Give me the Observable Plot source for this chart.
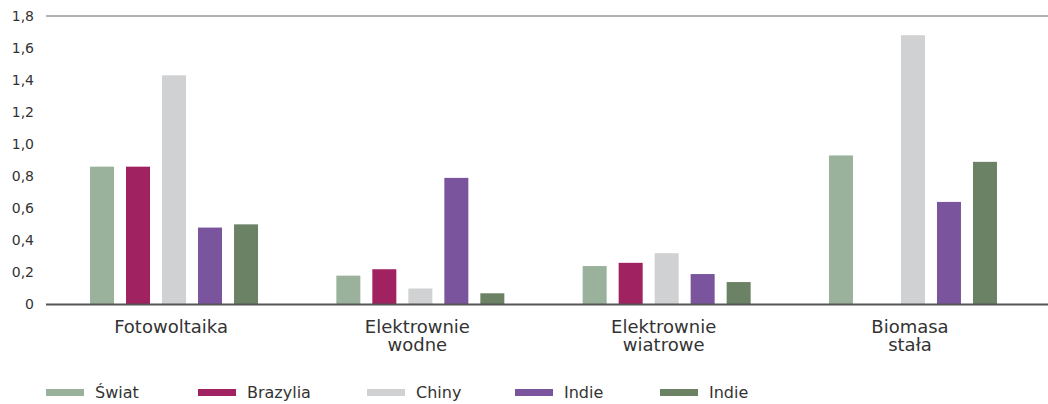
<!DOCTYPE html>
<html lang="pl">
<head>
<meta charset="utf-8">
<script src="https://cdn.jsdelivr.net/npm/d3@7"></script>
<script src="https://cdn.jsdelivr.net/npm/@observablehq/plot@0.6"></script>
<style>
  html, body { margin: 0; padding: 0; background: #fff; }
  body { font-family: "DejaVu Sans", sans-serif; color: #333; width: 1048px; }
  #chart svg { display: block; overflow: visible; }
  #chart g[aria-label^="y-axis"] text { font-size: 14px; }
  #chart g[aria-label^="fx-axis"] text { font-size: 18px; }
  .legend { display: flex; align-items: center; margin: 20px 0 0 46px; height: 20px; font-size: 16px; color: #333; }
  .legend .item { display: flex; align-items: center; flex: none; }
  .legend .item:nth-child(1) { width: 152px; }
  .legend .item:nth-child(2) { width: 169px; }
  .legend .item:nth-child(3) { width: 148px; }
  .legend .item:nth-child(4) { width: 145px; }
  .legend .sw { width: 38px; height: 7px; margin-right: 11px; }
</style>
</head>
<body>
<div id="chart"></div>
<div class="legend" id="legend"></div>
<script>
// Technology groups along the x axis
const categories = ["Fotowoltaika", "Elektrownie\nwodne", "Elektrownie\nwiatrowe", "Biomasa\nstała"];

// Series (keys are unique, labels are what the legend shows)
const seriesKeys = ["swiat", "brazylia", "chiny", "indie", "indie2"];
const seriesLabels = ["Świat", "Brazylia", "Chiny", "Indie", "Indie"];
const seriesColors = ["#9ab29c", "#a12260", "#d0d1d3", "#7a559e", "#6b8265"];

// Values per technology, in category order
const swiat    = [0.86, 0.18, 0.24, 0.93];
const brazylia = [0.86, 0.22, 0.26, null];
const chiny    = [1.43, 0.10, 0.32, 1.68];
const indie    = [0.48, 0.79, 0.19, 0.64];
const indie2   = [0.50, 0.07, 0.14, 0.89];

const yTicks = [0, 0.2, 0.4, 0.6, 0.8, 1.0, 1.2, 1.4, 1.6, 1.8];

const seriesValues = [swiat, brazylia, chiny, indie, indie2];
const rows = [];
seriesKeys.forEach((key, s) => {
  categories.forEach((cat, c) => {
    rows.push({category: cat, series: key, value: seriesValues[s][c]});
  });
});

const W = 1048, H = 362, ML = 46, MR = 7, MT = 16, MB = 57.5;

const plot = Plot.plot({
  width: W,
  height: H,
  marginLeft: ML,
  marginRight: MR,
  marginTop: MT,
  marginBottom: MB,
  style: {fontFamily: "DejaVu Sans, sans-serif", color: "#333", background: "#fff"},
  fx: {
    domain: categories,
    paddingInner: 0.2205,
    paddingOuter: 0.13,
    round: false,
    axis: "bottom",
    label: null,
    tickSize: 0,
    tickPadding: 15
  },
  x: {domain: seriesKeys, padding: 1 / 3, round: false, axis: null},
  y: {
    domain: [0, 1.8],
    ticks: yTicks,
    tickSize: 0,
    // the y axis hangs off the first facet, which starts inside the margin
    tickPadding: 44.5,
    label: null,
    tickFormat: d => d === 0 ? "0" : d.toFixed(1).replace(".", ",")
  },
  color: {domain: seriesKeys, range: seriesColors},
  marks: [
    Plot.barY(rows, {fx: "category", x: "series", y: "value", fill: "series"})
  ]
});

document.getElementById("chart").append(plot);

const svg = d3.select(plot.tagName.toLowerCase() === "svg" ? plot : plot.querySelector("svg"));

// Category labels sit slightly left of the bar groups
svg.selectAll('g[aria-label^="fx-axis"]').each(function () {
  const g = d3.select(this);
  const t = g.attr("transform") || "";
  g.attr("transform", `translate(-3.5,0) ${t}`);
});

// Full-width top and baseline rules, positioned by the plot's y scale
const yScale = plot.scale("y");
svg.append("line")
  .attr("x1", ML).attr("x2", W)
  .attr("y1", yScale.apply(1.8)).attr("y2", yScale.apply(1.8))
  .attr("stroke", "#666").attr("stroke-width", 1);
svg.append("line")
  .attr("x1", ML).attr("x2", W)
  .attr("y1", yScale.apply(0)).attr("y2", yScale.apply(0))
  .attr("stroke", "#555").attr("stroke-width", 2);

// Legend
const legend = d3.select("#legend");
seriesLabels.forEach((label, i) => {
  const item = legend.append("div").attr("class", "item");
  item.append("div").attr("class", "sw").style("background", seriesColors[i]);
  item.append("span").text(label);
});
</script>
</body>
</html>
